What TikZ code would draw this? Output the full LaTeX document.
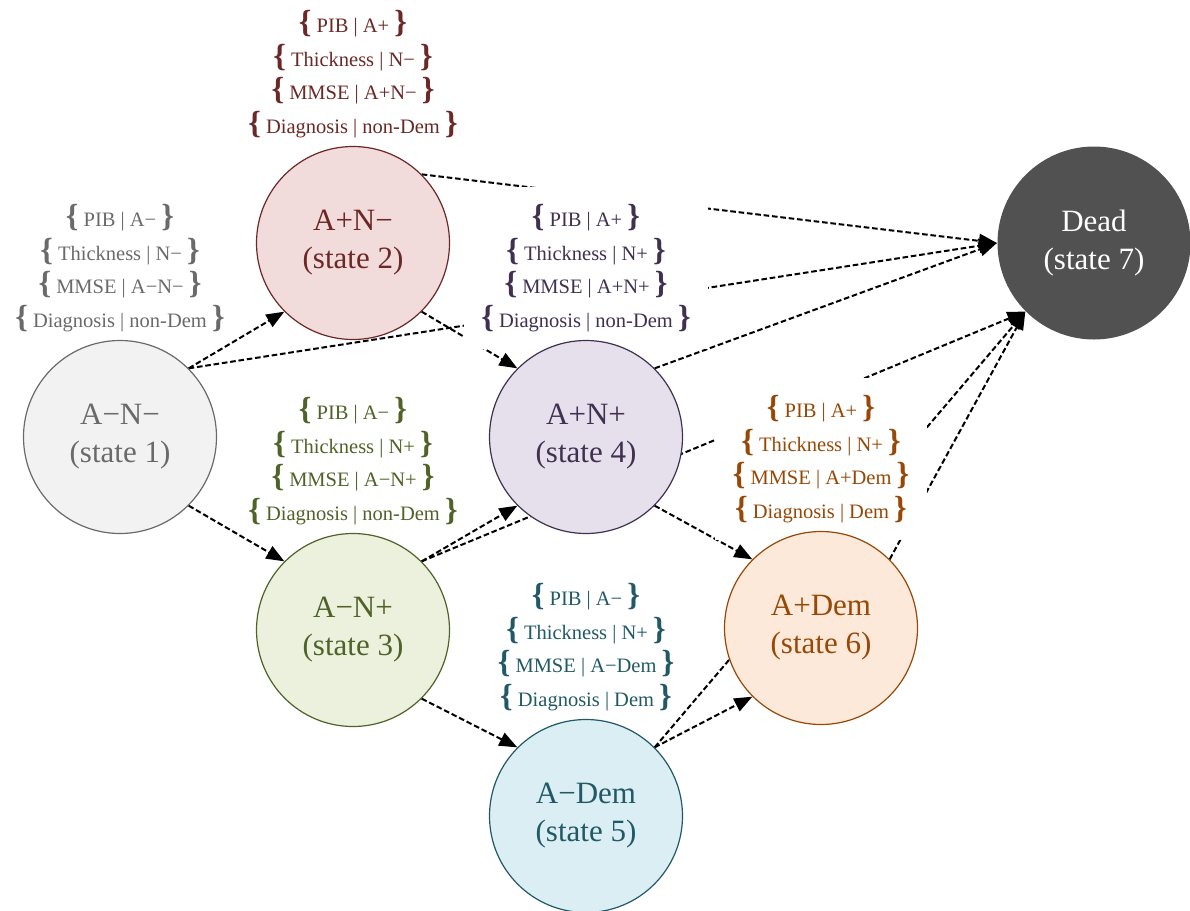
\documentclass[tikz,border=0pt]{standalone}
\usepackage{fontspec}
\setmainfont{Liberation Serif}
\usetikzlibrary{positioning}
\usetikzlibrary{arrows.meta}
\pgfdeclarelayer{bg}
\pgfdeclarelayer{lb}
\pgfsetlayers{bg,lb,main}
\definecolor{gryT}{HTML}{6A6A6A}
\definecolor{gryF}{HTML}{F2F2F2}
\definecolor{redT}{HTML}{6B2826}
\definecolor{redF}{HTML}{F2DCDB}
\definecolor{grnT}{HTML}{4F6228}
\definecolor{grnF}{HTML}{EBF1DD}
\definecolor{purT}{HTML}{403151}
\definecolor{purF}{HTML}{E6E0EC}
\definecolor{aquT}{HTML}{215967}
\definecolor{aquF}{HTML}{DAEEF3}
\definecolor{orgT}{HTML}{974806}
\definecolor{orgF}{HTML}{FDE9D9}
\definecolor{dedF}{HTML}{515151}
\newcommand{\bl}{{\fontsize{16}{16}\selectfont\bfseries\{}}
\newcommand{\br}{{\fontsize{16}{16}\selectfont\bfseries\}}}
\tikzset{
st/.style={
  circle,
  inner sep=0pt,
  minimum size=96.5pt,
  align=center,
  line width=0.6pt,
  font=\fontsize{15.5}{19}\selectfont
  },
lab/.style={
  align=center,
  inner xsep=8.75pt,
  inner ysep=8.5pt,
  font=\fontsize{10.25}{16.75}\selectfont
  },
labbox/.style={lab,fill=white},
flow/.style={line width=1pt,dash pattern=on 2.8pt off 1.4pt}
}
\begin{document}
\begin{tikzpicture}[->,>={Triangle[length=9pt,width=7pt]},node distance=84.5pt,on grid]
    \path[use as bounding box] (0pt,0pt) rectangle (595pt,-455.5pt);
    \node[st,draw=gryT,fill=gryF,text=gryT] (s1) at (60pt,-218.5pt) {A−N−\\(state 1)};
    \node[st,draw=redT,fill=redF,text=redT] (s2) [above right=97pt and 116.5pt of s1] {A+N−\\(state 2)};
    \node[st,draw=grnT,fill=grnF,text=grnT] (s3) [below right=96.5pt and 116.5pt of s1] {A−N+\\(state 3)};
    \node[st,draw=purT,fill=purF,text=purT] (s4) [right=233pt of s1] {A+N+\\(state 4)};
    \node[st,draw=aquT,fill=aquF,text=aquT] (s5) [below right=93pt and 116.5pt of s3] {A−Dem\\(state 5)};
    \node[st,draw=orgT,fill=orgF,text=orgT] (s6) [below right=95.5pt and 117.5pt of s4] {A+Dem\\(state 6)};
    \node[st,fill=dedF,text=white] (s7) [right=370.5pt of s2] {Dead\\(state 7)};
    \begin{pgfonlayer}{lb}
    \node[lab,text=gryT] (l1) [above=of s1] {\bl~PIB | A−~\br\\\bl~Thickness | N−~\br\\\bl~MMSE | A−N−~\br\\\bl~Diagnosis | non-Dem~\br};
    \node[lab,text=redT] (l2) [above=of s2] {\bl~PIB | A+~\br\\\bl~Thickness | N−~\br\\\bl~MMSE | A+N−~\br\\\bl~Diagnosis | non-Dem~\br};
    \node[lab,text=grnT] (l3) [above=of s3] {\bl~PIB | A−~\br\\\bl~Thickness | N+~\br\\\bl~MMSE | A−N+~\br\\\bl~Diagnosis | non-Dem~\br};
    \node[labbox,text=purT] (l4) [above=of s4] {\bl~PIB | A+~\br\\\bl~Thickness | N+~\br\\\bl~MMSE | A+N+~\br\\\bl~Diagnosis | non-Dem~\br};
    \node[lab,text=aquT] (l5) [above=of s5] {\bl~PIB | A−~\br\\\bl~Thickness | N+~\br\\\bl~MMSE | A−Dem~\br\\\bl~Diagnosis | Dem~\br};
    \node[labbox,text=orgT] (l6) [above=of s6] {\bl~PIB | A+~\br\\\bl~Thickness | N+~\br\\\bl~MMSE | A+Dem~\br\\\bl~Diagnosis | Dem~\br};
    \end{pgfonlayer}
    \begin{pgfonlayer}{bg}
    \path[flow]
    (s1.north east) edge (s2.south west)
    (s1.south east) edge (s3.north west)
    (s1.north east) edge (s7.west)
    (s2.north east) edge (s7.west)
    (s2.south east) edge (s4.north west)
    (s3.north east) edge (s4.south west)
    (s3.north east) edge (s7.south west)
    (s3.south east) edge (s5.north west)
    (s4.north east) edge (s7.west)
    (s4.south east) edge (s6.north west)
    (s5.north east) edge (s6.south west)
    (s5.north east) edge (s7.south west)
    (s6.north east) edge (s7.south west)
    ;
    \end{pgfonlayer}
\end{tikzpicture}
\end{document}
